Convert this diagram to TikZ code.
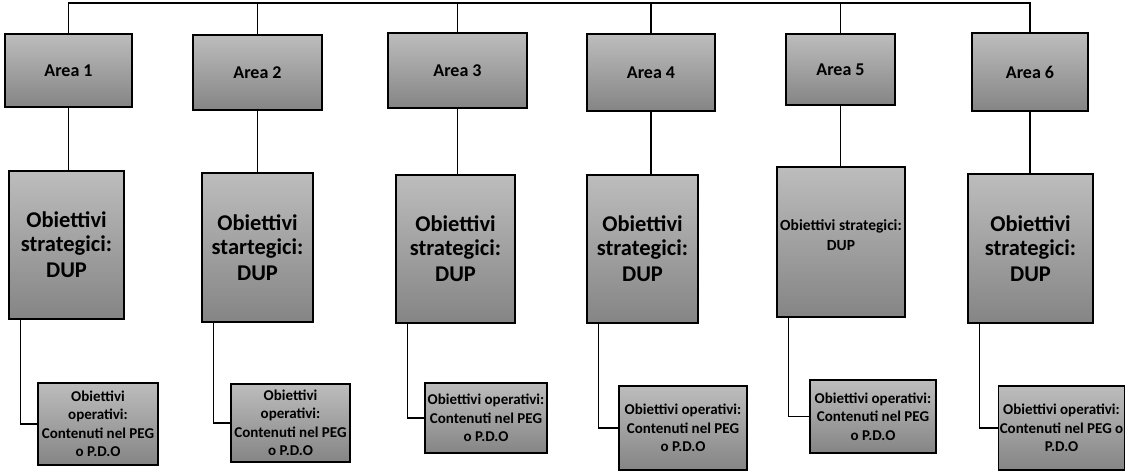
\documentclass[tikz,border=0pt]{standalone}
\usepackage{fontspec}
\setmainfont{Carlito}
\usetikzlibrary{shadings}
\begin{document}
\begin{tikzpicture}[x=1pt,y=-1pt,
  box/.style={draw=black,line width=1.2pt,top color=black!26,bottom color=black!48,
    inner sep=1pt,align=center,font=\bfseries},
  areabox/.style={box,font=\bfseries\fontsize{18}{20}\selectfont},
  stratbox/.style={box,font=\bfseries\fontsize{22.5}{24}\selectfont},
  opbox/.style={box,font=\bfseries\fontsize{15}{18.5}\selectfont},
  link/.style={line width=1.2pt,draw=black}]
\useasboundingbox (0,0) rectangle (1135,472);
\coordinate (top) at (0,3);
% Areas
\node[areabox,minimum width=127,minimum height=73] (a1) at (68.5,70.5) {Area 1};
\node[areabox,minimum width=129,minimum height=75] (a2) at (257.5,72.5) {Area 2};
\node[areabox,minimum width=139,minimum height=75] (a3) at (457.5,70.5) {Area 3};
\node[areabox,minimum width=128,minimum height=77] (a4) at (651,72.5) {Area 4};
\node[areabox,minimum width=109,minimum height=71] (a5) at (840.5,69.5) {Area 5};
\node[areabox,minimum width=116,minimum height=78] (a6) at (1030,72) {Area 6};
% Strategic
\node[stratbox,minimum width=115,minimum height=148] (s1) at (66.5,245) {Obiettivi\\strategici:\\[2pt]DUP};
\node[stratbox,minimum width=111,minimum height=149] (s2) at (257.5,247.5) {Obiettivi\\startegici:\\[2pt]DUP};
\node[stratbox,minimum width=119,minimum height=148] (s3) at (455.5,249) {Obiettivi\\strategici:\\[2pt]DUP};
\node[stratbox,minimum width=111,minimum height=148] (s4) at (642.5,249) {Obiettivi\\strategici:\\[2pt]DUP};
\node[box,minimum width=128,minimum height=150,
  font=\bfseries\fontsize{15.5}{20}\selectfont] (s5) at (841,242) {Obiettivi strategici:\\DUP\\[-6pt]};
\node[stratbox,minimum width=125,minimum height=149] (s6) at (1030.5,248.5) {Obiettivi\\strategici:\\[2pt]DUP};
% Operational
\node[opbox,minimum width=120,minimum height=82] (o1) at (98,424) {Obiettivi\\operativi:\\Contenuti nel PEG\\o P.D.O};
\node[opbox,minimum width=119,minimum height=78] (o2) at (290.5,423) {Obiettivi\\operativi:\\Contenuti nel PEG\\o P.D.O};
\node[opbox,minimum width=122,minimum height=70] (o3) at (486,418) {Obiettivi operativi:\\Contenuti nel PEG\\o P.D.O};
\node[opbox,minimum width=128,minimum height=84] (o4) at (683,428) {Obiettivi operativi:\\Contenuti nel PEG\\o P.D.O};
\node[opbox,minimum width=126,minimum height=73] (o5) at (873,416.5) {Obiettivi operativi:\\Contenuti nel PEG\\o P.D.O};
\node[opbox,minimum width=123,minimum height=84] (o6) at (1061.5,428) {Obiettivi operativi:\\Contenuti nel PEG o\\P.D.O};
% Top connectors
\draw[line width=1.6pt] (a1.north) -- (a1.north |- top) -- (a6.north |- top) -- (a6.north);
\foreach \i in {2,3,4,5} \draw[link] (a\i.north) -- (a\i.north |- top);
% Area to strategic
\foreach \i in {1,...,6} \draw[link] (a\i.south) -- (a\i.south |- s\i.north);
% Strategic to operational
\foreach \i in {1,...,6} \draw[link] ([xshift=12pt]s\i.south west) |- (o\i.west);
\end{tikzpicture}
\end{document}
